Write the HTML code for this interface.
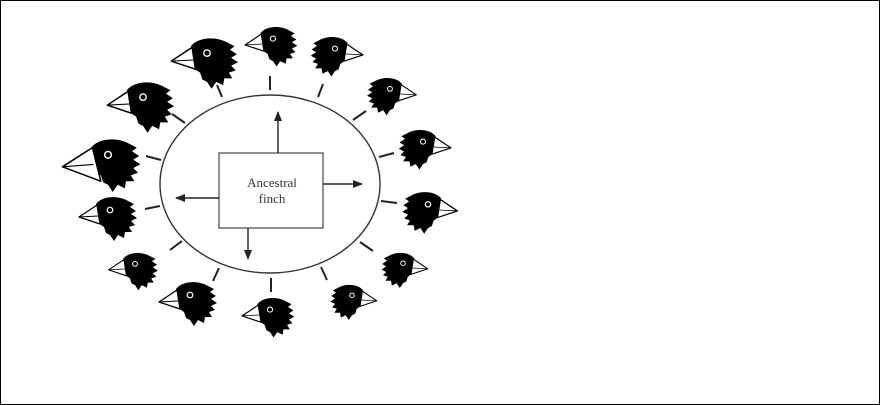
<!DOCTYPE html>
<html><head><meta charset="utf-8"><style>
html,body{margin:0;padding:0;background:#fff}
svg{display:block}
</style></head><body>
<svg width="880" height="405" viewBox="0 0 880 405" xmlns="http://www.w3.org/2000/svg">
<defs>
<marker id="ah" markerWidth="10" markerHeight="8" refX="9" refY="4" orient="auto" markerUnits="userSpaceOnUse">
<path d="M0,0 L10,4 L0,8 z" fill="#222"/>
</marker>
<g id="bird">
<path d="M-14,-12 C-8,-20 8,-21 18,-15 L24,-12 L20,-9 L26,-5 L21,-2 L27,2 L21,5 L25,9 L19,11 L22,16 L15,16 L14,22 L8,19 L4,25 L0,19 L-4,17 L-6,11 L-12,7 z" fill="#000"/>
<path d="M-13,-11 L-31,1 L-10,8 Z" fill="#fff" stroke="#000" stroke-width="1.3" stroke-linejoin="round"/>
<path d="M-31,1 L-12,0" stroke="#000" stroke-width="0.9"/>
<circle cx="0" cy="-6" r="2.8" fill="none" stroke="#fff" stroke-width="1.2"/>
</g>
<g id="bigbird">
<path d="M-14,-12 C-8,-20 8,-21 18,-15 L24,-12 L20,-9 L26,-5 L21,-2 L27,2 L21,5 L25,9 L19,11 L22,16 L15,16 L14,22 L8,19 L4,25 L0,19 L-4,17 L-6,11 L-12,7 z" fill="#000"/>
<path d="M-13,-12 L-38,4 L-6,16 Z" fill="#fff" stroke="#000" stroke-width="1.3" stroke-linejoin="round"/>
<path d="M-38,4 L-12,2" stroke="#000" stroke-width="0.9"/>
<circle cx="0" cy="-6" r="2.8" fill="none" stroke="#fff" stroke-width="1.2"/>
</g>
</defs>
<rect x="0.5" y="0.5" width="879" height="404" fill="#fff" stroke="#000" stroke-width="1"/>

<ellipse cx="270" cy="184" rx="110" ry="89" fill="none" stroke="#333" stroke-width="1.4"/>
<rect x="219" y="153" width="104" height="75" fill="#fff" stroke="#444" stroke-width="1.2"/>
<text x="272" y="187" font-family="Liberation Serif, serif" font-size="13" text-anchor="middle" fill="#333">Ancestral</text>
<text x="272" y="203" font-family="Liberation Serif, serif" font-size="13" text-anchor="middle" fill="#333">finch</text>
<g stroke="#222" stroke-width="1.4" marker-end="url(#ah)">
<line x1="278" y1="153" x2="278" y2="112"/>
<line x1="323" y1="184" x2="362" y2="184"/>
<line x1="219" y1="198" x2="176" y2="198"/>
<line x1="248" y1="228" x2="248" y2="259"/>
</g>

<g stroke="#222" stroke-width="2">
<line x1="222" y1="97" x2="217" y2="85"/>
<line x1="270" y1="90" x2="270" y2="76"/>
<line x1="318" y1="97" x2="323" y2="84"/>
<line x1="353" y1="120" x2="366" y2="111"/>
<line x1="379" y1="157" x2="394" y2="153"/>
<line x1="381" y1="201" x2="397" y2="203"/>
<line x1="360" y1="242" x2="373" y2="251"/>
<line x1="321" y1="267" x2="327" y2="280"/>
<line x1="271" y1="278" x2="271" y2="292"/>
<line x1="219" y1="268" x2="213" y2="281"/>
<line x1="182" y1="241" x2="170" y2="250"/>
<line x1="160" y1="206" x2="145" y2="209"/>
<line x1="161" y1="160" x2="146" y2="156"/>
<line x1="185" y1="123" x2="172" y2="114"/>
</g>

<use href="#bird" transform="translate(207,60) scale(1.15)"/>
<use href="#bird" transform="translate(273,44) scale(0.9)"/>
<use href="#bird" transform="translate(335,54) scale(-0.9,0.9)"/>
<use href="#bird" transform="translate(390,94) scale(-0.85,0.85)"/>
<use href="#bird" transform="translate(423,147) scale(-0.9,0.9)"/>
<use href="#bird" transform="translate(428,210) scale(-0.95,0.95)"/>
<use href="#bird" transform="translate(403,268) scale(-0.8,0.8)"/>
<use href="#bird" transform="translate(352,300) scale(-0.8,0.8)"/>
<use href="#bird" transform="translate(270,315) scale(0.9)"/>
<use href="#bird" transform="translate(190,301) scale(1)"/>
<use href="#bird" transform="translate(135,269) scale(0.85)"/>
<use href="#bird" transform="translate(110,216) scale(1)"/>
<use href="#bigbird" transform="translate(108,162) scale(1.2)"/>
<use href="#bird" transform="translate(143,104) scale(1.15)"/>
</svg>
</body></html>
